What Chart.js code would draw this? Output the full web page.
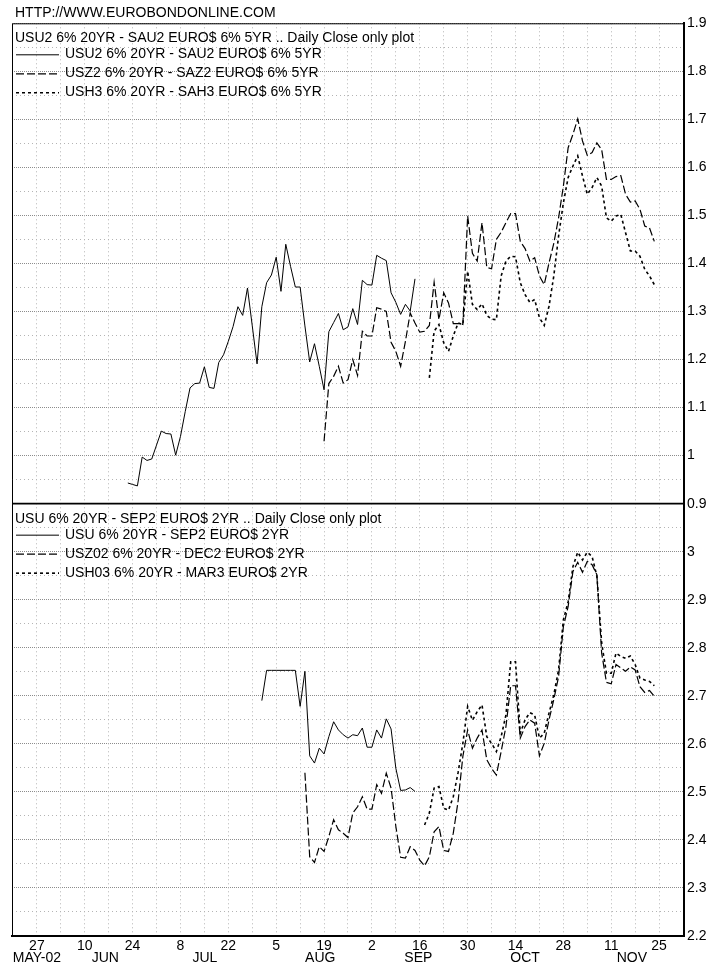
<!DOCTYPE html>
<html>
<head>
<meta charset="utf-8">
<script src="https://cdn.jsdelivr.net/npm/chart.js@4.4.1/dist/chart.umd.min.js"></script>
<style>
  html, body { margin: 0; padding: 0; background: #fff; }
  canvas { display: block; }
</style>
</head>
<body>
<canvas id="chart" width="711" height="969"></canvas>
<script>
// x axis is trading days counted from Monday 27 May 2002 (5 per week)
const dayTicks = [0, 10, 20, 30, 40, 50, 60, 70, 80, 90, 100, 110, 120, 130];
const dayLabels = ['27', '10', '24', '8', '22', '5', '19', '2', '16', '30', '14', '28', '11', '25'];
const monthTicks = [0, 14.3, 35.1, 59.2, 79.7, 102, 124.3];
const monthLabels = ['MAY-02', 'JUN', 'JUL', 'AUG', 'SEP', 'OCT', 'NOV'];

const topTickValues = [0.9, 1, 1.1, 1.2, 1.3, 1.4, 1.5, 1.6, 1.7, 1.8, 1.9];
const bottomTickValues = [2.2, 2.3, 2.4, 2.5, 2.6, 2.7, 2.8, 2.9, 3];

const siteTitle = 'HTTP://WWW.EUROBONDONLINE.COM';
const topTitle = 'USU2 6% 20YR - SAU2 EURO$ 6% 5YR .. Daily Close only plot';
const bottomTitle = 'USU 6% 20YR - SEP2 EURO$ 2YR .. Daily Close only plot';
const topNames = ['USU2 6% 20YR - SAU2 EURO$ 6% 5YR', 'USZ2 6% 20YR - SAZ2 EURO$ 6% 5YR', 'USH3 6% 20YR - SAH3 EURO$ 6% 5YR'];
const bottomNames = ['USU 6% 20YR - SEP2 EURO$ 2YR', 'USZ02 6% 20YR - DEC2 EURO$ 2YR', 'USH03 6% 20YR - MAR3 EURO$ 2YR'];

// top panel spreads
const usu2Start = 19;
const usu2 = [0.943, 0.94, 0.937, 0.997, 0.99, 0.993, 1.022, 1.051, 1.046, 1.045, 1.001, 1.04, 1.092, 1.141, 1.15,
  1.151, 1.185, 1.142, 1.14, 1.194, 1.21, 1.238, 1.269, 1.31, 1.292, 1.349, 1.27, 1.191, 1.31, 1.36, 1.376, 1.413,
  1.342, 1.44, 1.394, 1.351, 1.351, 1.27, 1.195, 1.233, 1.186, 1.137, 1.258, 1.277, 1.296, 1.262, 1.268, 1.306,
  1.273, 1.365, 1.356, 1.355, 1.417, 1.411, 1.406, 1.339, 1.319, 1.294, 1.315, 1.301, 1.368];
const usz2Start = 60;
const usz2 = [1.03, 1.15, 1.165, 1.186, 1.151, 1.158, 1.2, 1.167, 1.259, 1.249, 1.249, 1.308, 1.305, 1.3, 1.236, 1.217,
  1.186, 1.238, 1.297, 1.276, 1.257, 1.259, 1.271, 1.361, 1.283, 1.339, 1.318, 1.275, 1.275, 1.273, 1.499, 1.421,
  1.405, 1.485, 1.392, 1.389, 1.45, 1.465, 1.485, 1.504, 1.504, 1.446, 1.431, 1.405, 1.412, 1.374, 1.356, 1.401,
  1.442, 1.495, 1.561, 1.641, 1.669, 1.701, 1.655, 1.625, 1.631, 1.651, 1.637, 1.575, 1.575, 1.581, 1.583, 1.544,
  1.528, 1.53, 1.513, 1.478, 1.474, 1.446];
const ush3Start = 82;
const ush3 = [1.162, 1.259, 1.273, 1.235, 1.217, 1.249, 1.276, 1.273, 1.384, 1.315, 1.304, 1.316, 1.292, 1.284, 1.283,
  1.374, 1.405, 1.415, 1.414, 1.36, 1.335, 1.319, 1.325, 1.287, 1.271, 1.311, 1.374, 1.457, 1.526, 1.579, 1.603,
  1.624, 1.582, 1.544, 1.558, 1.579, 1.561, 1.495, 1.488, 1.499, 1.502, 1.464, 1.426, 1.426, 1.415, 1.388, 1.374,
  1.356];

// bottom panel spreads
const usuStart = 47;
const usu = [2.69, 2.753, 2.753, 2.753, 2.753, 2.753, 2.753, 2.753, 2.678, 2.751, 2.575, 2.56, 2.591, 2.579, 2.615,
  2.646, 2.629, 2.619, 2.612, 2.619, 2.617, 2.633, 2.593, 2.593, 2.629, 2.612, 2.652, 2.631, 2.549, 2.503, 2.504,
  2.509, 2.501];
const usz02Start = 56;
const usz02 = [2.54, 2.365, 2.353, 2.386, 2.376, 2.407, 2.442, 2.421, 2.414, 2.405, 2.456, 2.469, 2.49, 2.464, 2.464,
  2.515, 2.497, 2.539, 2.508, 2.428, 2.364, 2.362, 2.386, 2.378, 2.358, 2.346, 2.365, 2.417, 2.428, 2.378, 2.376,
  2.414, 2.48, 2.574, 2.629, 2.591, 2.612, 2.629, 2.567, 2.549, 2.535, 2.584, 2.636, 2.721, 2.721, 2.612, 2.636,
  2.65, 2.643, 2.575, 2.601, 2.65, 2.692, 2.74, 2.844, 2.886, 2.959, 2.978, 2.957, 2.98, 2.973, 2.952, 2.789, 2.728,
  2.725, 2.765, 2.758, 2.751, 2.76, 2.754, 2.719, 2.707, 2.711, 2.699];
const ush03Start = 81;
const ush03 = [2.431, 2.456, 2.508, 2.511, 2.466, 2.462, 2.49, 2.54, 2.601, 2.678, 2.649, 2.667, 2.681, 2.615, 2.601,
  2.584, 2.615, 2.66, 2.771, 2.771, 2.622, 2.65, 2.665, 2.66, 2.612, 2.622, 2.664, 2.702, 2.754, 2.858, 2.896, 2.969,
  2.999, 2.983, 2.999, 2.99, 2.949, 2.81, 2.747, 2.747, 2.789, 2.782, 2.778, 2.783, 2.765, 2.737, 2.733, 2.73, 2.721];

const FONT = '"Liberation Sans", Arial, sans-serif';
const SOLID = [];
const DASHED = [8, 3];
const DOTTED = [3, 3];

function points(start, values) {
  return values.map((v, k) => ({ x: start + k, y: v }));
}

function line(label, start, values, axis, dash, width) {
  return {
    label: label,
    data: points(start, values),
    yAxisID: axis,
    borderColor: '#000',
    borderWidth: width,
    borderDash: dash,
    pointRadius: 0,
    fill: false,
    tension: 0
  };
}

function isMajor(v, majors) {
  return majors.some(t => Math.abs(t - v) < 1e-6);
}

function halfSteps(scale) {
  const ticks = [];
  for (let k = 0; scale.min + k * 0.05 <= scale.max + 1e-9; k++) {
    ticks.push({ value: Math.round((scale.min + k * 0.05) * 100) / 100 });
  }
  scale.ticks = ticks;
}

function yAxis(min, max, weight, majors) {
  return {
    type: 'linear',
    position: 'right',
    stack: 'panels',
    stackWeight: weight,
    min: min,
    max: max,
    afterBuildTicks: halfSteps,
    afterFit: s => { s.width = 27.5; },
    ticks: {
      padding: 3.5,
      color: '#000',
      font: { family: FONT, size: 14 },
      autoSkip: false,
      callback: v => isMajor(v, majors) ? String(Math.round(v * 10) / 10) : ''
    },
    grid: {
      drawTicks: false,
      lineWidth: 1,
      color: c => (c.tick && isMajor(c.tick.value, majors)) ? '#8c8c8c' : '#b4b4b4'
    },
    border: {
      display: true,
      color: '#000',
      width: 2,
      dash: c => (c.tick && isMajor(c.tick.value, majors)) ? [1, 1] : [1, 3]
    }
  };
}

// frame and panel separator, drawn from the chart area and the stacked scales
const framePlugin = {
  id: 'frame',
  beforeDatasetsDraw(chart) {
    const { ctx, chartArea } = chart;
    ctx.save();
    ctx.strokeStyle = '#000';
    ctx.lineWidth = 1;
    ctx.beginPath();
    ctx.moveTo(chartArea.left + 0.5, chartArea.bottom);
    ctx.lineTo(chartArea.left + 0.5, chartArea.top + 0.5);
    ctx.lineTo(chartArea.right, chartArea.top + 0.5);
    ctx.stroke();
    ctx.lineWidth = 1.6;
    ctx.beginPath();
    ctx.moveTo(chartArea.left, chart.scales.yTop.bottom);
    ctx.lineTo(chartArea.right, chart.scales.yTop.bottom);
    ctx.stroke();
    ctx.restore();
  }
};

// site title plus a title and a line legend inside each panel
const panelText = {
  id: 'panelText',
  afterDraw(chart) {
    const { ctx, chartArea } = chart;
    const x = chartArea.left + 3;
    ctx.save();
    ctx.font = '14px ' + FONT;
    ctx.fillStyle = '#000';
    ctx.textBaseline = 'middle';
    ctx.fillText(siteTitle, x, 13);
    [['yTop', topTitle], ['yBot', bottomTitle]].forEach(([axis, title]) => {
      const top = chart.scales[axis].top;
      ctx.fillText(title, x, top + 15);
      chart.data.datasets.filter(d => d.yAxisID === axis).forEach((d, row) => {
        const y = top + 31 + row * 19;
        ctx.save();
        ctx.strokeStyle = '#000';
        ctx.lineWidth = d.borderWidth;
        ctx.setLineDash(d.borderDash);
        ctx.beginPath();
        ctx.moveTo(x + 1, y + 0.5);
        ctx.lineTo(x + 44, y + 0.5);
        ctx.stroke();
        ctx.restore();
        ctx.fillText(d.label, x + 50, y);
      });
    });
    ctx.restore();
  }
};

new Chart(document.getElementById('chart'), {
  type: 'line',
  data: {
    datasets: [
      line(topNames[0], usu2Start, usu2, 'yTop', SOLID, 1),
      line(topNames[1], usz2Start, usz2, 'yTop', DASHED, 1.2),
      line(topNames[2], ush3Start, ush3, 'yTop', DOTTED, 1.6),
      line(bottomNames[0], usuStart, usu, 'yBot', SOLID, 1),
      line(bottomNames[1], usz02Start, usz02, 'yBot', DASHED, 1.2),
      line(bottomNames[2], ush03Start, ush03, 'yBot', DOTTED, 1.6)
    ]
  },
  options: {
    responsive: false,
    animation: false,
    devicePixelRatio: 1,
    layout: { padding: { left: 12, right: 0, top: 23.3, bottom: 4 } },
    plugins: {
      legend: { display: false },
      title: { display: false },
      tooltip: { enabled: false }
    },
    scales: {
      yTop: yAxis(0.9, 1.9, 10, topTickValues),
      yBot: yAxis(2.2, 3.1, 9, bottomTickValues),
      x: {
        type: 'linear',
        position: 'bottom',
        weight: 0,
        min: -5.2,
        max: 135.1,
        afterBuildTicks: s => {
          const ticks = [];
          for (let v = 0; v <= 130; v += 5) ticks.push({ value: v });
          s.ticks = ticks;
        },
        afterFit: s => { s.height = 16; },
        ticks: {
          autoSkip: false,
          maxRotation: 0,
          padding: 3.4,
          color: '#000',
          font: { family: FONT, size: 14, lineHeight: 0.9 },
          callback: v => {
            const k = dayTicks.indexOf(v);
            return k >= 0 ? dayLabels[k] : '';
          }
        },
        grid: { drawTicks: false, color: '#b4b4b4', lineWidth: 1 },
        border: { display: true, color: '#000', width: 2, dash: [1, 3] }
      },
      xMonth: {
        type: 'linear',
        position: 'bottom',
        weight: 1,
        min: -5.2,
        max: 135.1,
        afterBuildTicks: s => { s.ticks = monthTicks.map(v => ({ value: v })); },
        afterFit: s => { s.height = 13; },
        ticks: {
          autoSkip: false,
          maxRotation: 0,
          padding: 0,
          color: '#000',
          font: { family: FONT, size: 14, lineHeight: 0.9 },
          callback: (v, i) => monthLabels[i]
        },
        grid: { display: false, drawTicks: false },
        border: { display: false }
      }
    }
  },
  plugins: [framePlugin, panelText]
});
</script>
</body>
</html>
